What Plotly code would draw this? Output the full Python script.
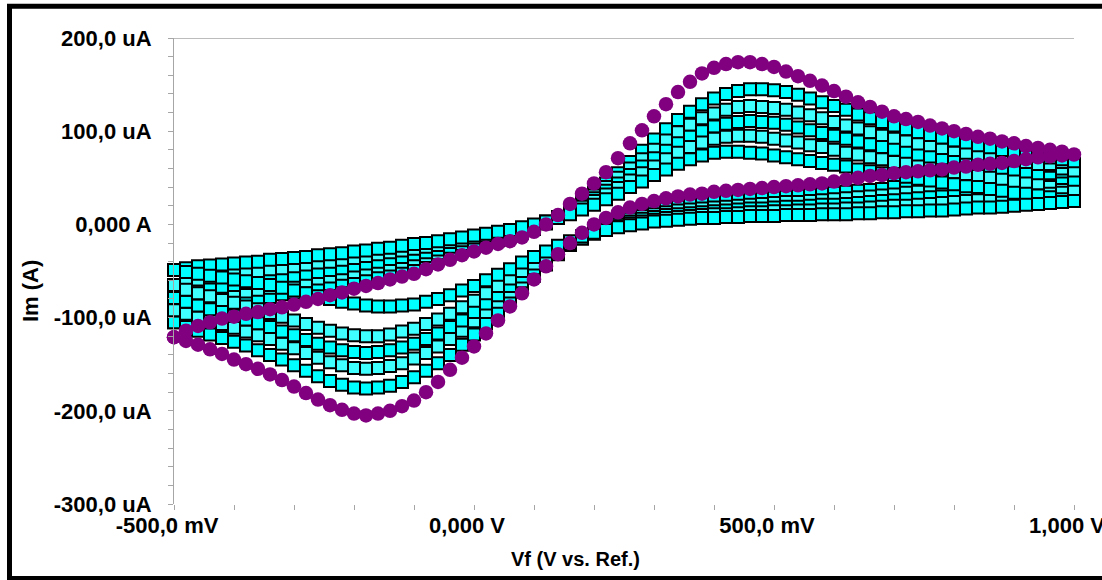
import plotly.graph_objects as go

# Potential grid of the scan (mV), forward sweep -500 -> 1000
POT_FWD = [-500, -480, -460, -440, -420, -400, -380, -360, -340, -320,
           -300, -280, -260, -240, -220, -200, -180, -160, -140, -120,
           -100, -80, -60, -40, -20, 0, 20, 40, 60, 80,
           100, 120, 140, 160, 180, 200, 220, 240, 260, 280,
           300, 320, 340, 360, 380, 400, 420, 440, 460, 480,
           500, 520, 540, 560, 580, 600, 620, 640, 660, 680,
           700, 720, 740, 760, 780, 800, 820, 840, 860, 880,
           900, 920, 940, 960, 980, 1000]
# reverse sweep 980 -> -500
POT_REV = POT_FWD[-2::-1]

# Currents (uA)
PURPLE_FWD = [-121, -114, -109, -105, -101, -99, -96, -94, -91, -89,
              -86, -83, -80, -76, -73, -69, -66, -63, -59, -56,
              -53, -48, -43, -38, -33, -29, -25, -21, -18, -14,
              -8, 0, 10, 22, 33, 44, 56, 71, 87, 101,
              116, 129, 142, 153, 162, 168, 172, 174, 174, 172,
              169, 164, 159, 154, 149, 143, 137, 131, 126, 121,
              116, 113, 110, 106, 103, 100, 97, 94, 92, 89,
              87, 84, 82, 80, 78, 75]
PURPLE_REV = [74, 73, 72, 70, 68, 66, 65, 64, 62, 61,
              59, 58, 57, 56, 55, 53, 52, 50, 48, 46,
              44, 43, 42, 41, 40, 39, 38, 37, 36, 35,
              33, 32, 30, 28, 25, 22, 18, 13, 7, 0,
              -9, -20, -32, -45, -59, -74, -88, -103, -117, -131,
              -143, -156, -169, -180, -189, -195, -200, -203, -205, -203,
              -199, -194, -188, -181, -174, -167, -161, -155, -150, -145,
              -139, -134, -129, -125, -121]

C5_FWD = [-105, -99, -95, -91, -88, -85, -83, -80, -78, -75,
          -73, -70, -67, -64, -61, -58, -55, -52, -49, -46,
          -43, -40, -36, -32, -28, -24, -20, -17, -13, -9,
          -5, 1, 8, 16, 25, 34, 44, 55, 67, 79,
          91, 102, 112, 121, 129, 135, 140, 143, 145, 145,
          144, 142, 139, 135, 131, 127, 123, 118, 114, 110,
          106, 102, 99, 96, 93, 90, 87, 84, 82, 79,
          77, 74, 72, 70, 67, 65]
C5_REV = [64, 62, 60, 58, 56, 54, 52, 50, 48, 47,
          45, 44, 42, 41, 40, 38, 37, 36, 35, 34,
          33, 32, 31, 30, 29, 28, 27, 26, 25, 24,
          23, 22, 20, 18, 16, 13, 10, 6, 1, -5,
          -13, -22, -32, -43, -55, -67, -80, -93, -106, -118,
          -129, -140, -149, -157, -164, -169, -173, -175, -176, -175,
          -172, -168, -163, -157, -151, -145, -140, -135, -130, -126,
          -122, -118, -114, -110, -105]

C4_FWD = [-92, -87, -83, -80, -77, -75, -72, -70, -68, -66,
          -63, -61, -58, -56, -53, -51, -48, -45, -43, -40,
          -37, -34, -31, -28, -24, -21, -18, -14, -11, -7,
          -3, 2, 8, 15, 23, 31, 40, 50, 60, 70,
          80, 90, 99, 107, 114, 119, 123, 126, 127, 126,
          125, 123, 120, 117, 114, 110, 106, 103, 99, 95,
          92, 89, 86, 83, 80, 77, 75, 72, 70, 67,
          65, 63, 61, 59, 57, 55]
C4_REV = [54, 52, 50, 48, 47, 45, 43, 42, 40, 39,
          37, 36, 35, 34, 32, 31, 30, 29, 28, 27,
          26, 25, 24, 24, 23, 22, 21, 20, 19, 18,
          17, 16, 15, 13, 11, 9, 6, 2, -2, -8,
          -14, -22, -31, -40, -50, -61, -72, -83, -94, -104,
          -114, -123, -131, -138, -144, -149, -152, -154, -155, -154,
          -151, -148, -143, -138, -133, -128, -123, -119, -115, -111,
          -107, -104, -100, -96, -92]

C3_FWD = [-79, -75, -72, -69, -67, -65, -63, -61, -59, -57,
          -55, -53, -51, -49, -47, -44, -42, -40, -37, -35,
          -32, -30, -27, -24, -21, -18, -15, -12, -9, -6,
          -2, 2, 8, 14, 21, 28, 36, 44, 53, 62,
          71, 79, 87, 94, 100, 105, 108, 110, 111, 110,
          109, 107, 104, 101, 98, 95, 92, 89, 86, 83,
          80, 77, 74, 72, 69, 67, 64, 62, 60, 58,
          56, 54, 52, 50, 47, 45]
C3_REV = [44, 42, 41, 39, 38, 36, 35, 34, 32, 31,
          30, 29, 28, 27, 26, 25, 24, 23, 22, 21,
          21, 20, 19, 19, 18, 17, 17, 16, 15, 14,
          13, 12, 11, 10, 8, 6, 3, 0, -4, -9,
          -15, -22, -30, -38, -47, -56, -66, -76, -85, -94,
          -103, -110, -117, -123, -128, -132, -135, -137, -138, -137,
          -135, -132, -128, -124, -119, -115, -110, -106, -102, -98,
          -94, -91, -87, -83, -79]

C2_FWD = [-65, -62, -59, -57, -55, -53, -52, -50, -48, -47,
          -45, -43, -41, -40, -38, -36, -34, -32, -30, -28,
          -26, -24, -22, -19, -17, -14, -12, -9, -7, -4,
          -1, 3, 8, 13, 19, 25, 32, 39, 47, 55,
          62, 70, 77, 83, 88, 92, 94, 95, 95, 94,
          92, 90, 88, 85, 83, 80, 77, 75, 72, 70,
          67, 65, 62, 60, 58, 56, 54, 52, 50, 48,
          46, 44, 42, 40, 37, 35]
C2_REV = [34, 33, 31, 30, 29, 28, 27, 26, 25, 24,
          23, 22, 21, 20, 20, 19, 18, 17, 17, 16,
          16, 15, 15, 14, 14, 13, 13, 12, 11, 11,
          10, 9, 8, 7, 5, 3, 1, -2, -6, -10,
          -15, -21, -27, -34, -42, -50, -58, -66, -74, -82,
          -89, -96, -102, -107, -112, -115, -118, -120, -120, -119,
          -117, -114, -111, -107, -103, -99, -95, -91, -88, -84,
          -81, -77, -74, -70, -65]

C1_FWD = [-49, -47, -45, -44, -43, -42, -41, -40, -38, -37,
          -36, -35, -33, -32, -31, -29, -28, -26, -25, -23,
          -21, -20, -18, -16, -14, -12, -10, -8, -6, -3,
          0, 3, 7, 11, 16, 21, 27, 33, 40, 46,
          53, 59, 65, 70, 74, 77, 78, 78, 77, 76,
          74, 72, 70, 68, 66, 64, 62, 59, 57, 55,
          53, 51, 49, 47, 45, 43, 41, 40, 38, 36,
          34, 33, 31, 29, 27, 25]
C1_REV = [24, 23, 22, 21, 20, 19, 18, 18, 17, 16,
          15, 15, 14, 14, 13, 13, 12, 12, 11, 11,
          11, 10, 10, 10, 9, 9, 9, 8, 8, 7,
          7, 6, 5, 4, 3, 1, -1, -3, -6, -9,
          -13, -18, -23, -29, -35, -41, -48, -54, -60, -66,
          -71, -76, -80, -83, -86, -87, -88, -88, -87, -85,
          -83, -80, -77, -74, -71, -68, -65, -63, -61, -59,
          -57, -55, -53, -51, -49]

X_TICKS = [-500, 0, 500, 1000]
X_TICK_TEXT = ["-500,0 mV", "0,000 V", "500,0 mV", "1,000 V"]
Y_TICKS = [-300, -200, -100, 0, 100, 200]
Y_TICK_TEXT = ["-300,0 uA", "-200,0 uA", "-100,0 uA", "0,000 A", "100,0 uA", "200,0 uA"]

CYAN = "#00FFFF"
CYAN_LIGHT = "#40FFFF"
PURPLE = "#800080"
AXIS_GREY = "#A6A6A6"
FONT = "Arial, 'Liberation Sans', sans-serif"

fig = go.Figure()

cyan_series = [
    (C5_FWD, C5_REV, CYAN),
    (C4_FWD, C4_REV, CYAN_LIGHT),
    (C3_FWD, C3_REV, CYAN),
    (C2_FWD, C2_REV, CYAN_LIGHT),
    (C1_FWD, C1_REV, CYAN),
]
for fwd, rev, col in cyan_series:
    fig.add_trace(go.Scatter(
        x=POT_FWD + POT_REV, y=fwd + rev, mode="markers",
        marker=dict(symbol="square", size=12, color=col,
                    line=dict(color="black", width=2)),
        cliponaxis=False, showlegend=False, hoverinfo="skip"))

fig.add_trace(go.Scatter(
    x=POT_FWD + POT_REV, y=PURPLE_FWD + PURPLE_REV, mode="markers",
    marker=dict(symbol="circle", size=14.5, color=PURPLE, line=dict(width=0)),
    cliponaxis=False, showlegend=False, hoverinfo="skip"))

L, T, R, B = 174, 38, 1074, 504
W, H = 1102, 580

def px_x(p):
    return (p - L) / (R - L)

def px_y(p):
    return (B - p) / (B - T)

fig.update_layout(
    width=W, height=H,
    margin=dict(l=L, r=W - R, t=T, b=H - B, autoexpand=False),
    paper_bgcolor="white", plot_bgcolor="white",
    xaxis=dict(
        range=[-500, 1000], showgrid=False, zeroline=False, showline=False,
        automargin=False,
        tickvals=X_TICKS, ticktext=X_TICK_TEXT, ticks="",
        ticklabelshift=-7, ticklabelstandoff=6, ticklabeloverflow="allow",
        tickfont=dict(family=FONT, size=22, color="black", weight="bold"),
        minor=dict(dtick=100, tick0=-500, ticks="outside", ticklen=5,
                   tickcolor=AXIS_GREY, showgrid=False),
    ),
    yaxis=dict(
        range=[-300, 200], showgrid=False, zeroline=False,
        showline=True, linecolor=AXIS_GREY, linewidth=1,
        automargin=False,
        tickvals=Y_TICKS, ticktext=Y_TICK_TEXT,
        ticks="outside", ticklen=5, tickcolor=AXIS_GREY,
        ticklabelstandoff=12, ticklabeloverflow="allow",
        tickfont=dict(family=FONT, size=22, color="black", weight="bold"),
        minor=dict(dtick=20, tick0=0, ticks="outside", ticklen=5,
                   tickcolor=AXIS_GREY, showgrid=False),
    ),
    shapes=[
        dict(type="line", xref="paper", yref="y", x0=0, x1=1, y0=200, y1=200,
             line=dict(color=AXIS_GREY, width=1.3)),
        dict(type="rect", xref="paper", yref="paper",
             x0=px_x(9.5), x1=px_x(1120), y0=px_y(578.5), y1=px_y(6.3),
             line=dict(color="black", width=5), fillcolor="rgba(0,0,0,0)"),
    ],
    annotations=[
        dict(text="Im (A)", xref="paper", yref="paper", x=px_x(30), y=px_y(291),
             xanchor="center", yanchor="middle",
             showarrow=False, textangle=-90,
             font=dict(family=FONT, size=22, color="black", weight="bold")),
        dict(text="Vf (V vs. Ref.)", xref="paper", yref="paper", x=px_x(575), y=px_y(559),
             xanchor="center", yanchor="middle",
             showarrow=False,
             font=dict(family=FONT, size=20, color="black", weight="bold")),
    ],
)

fig.write_html("out.html", config={"displayModeBar": False})
